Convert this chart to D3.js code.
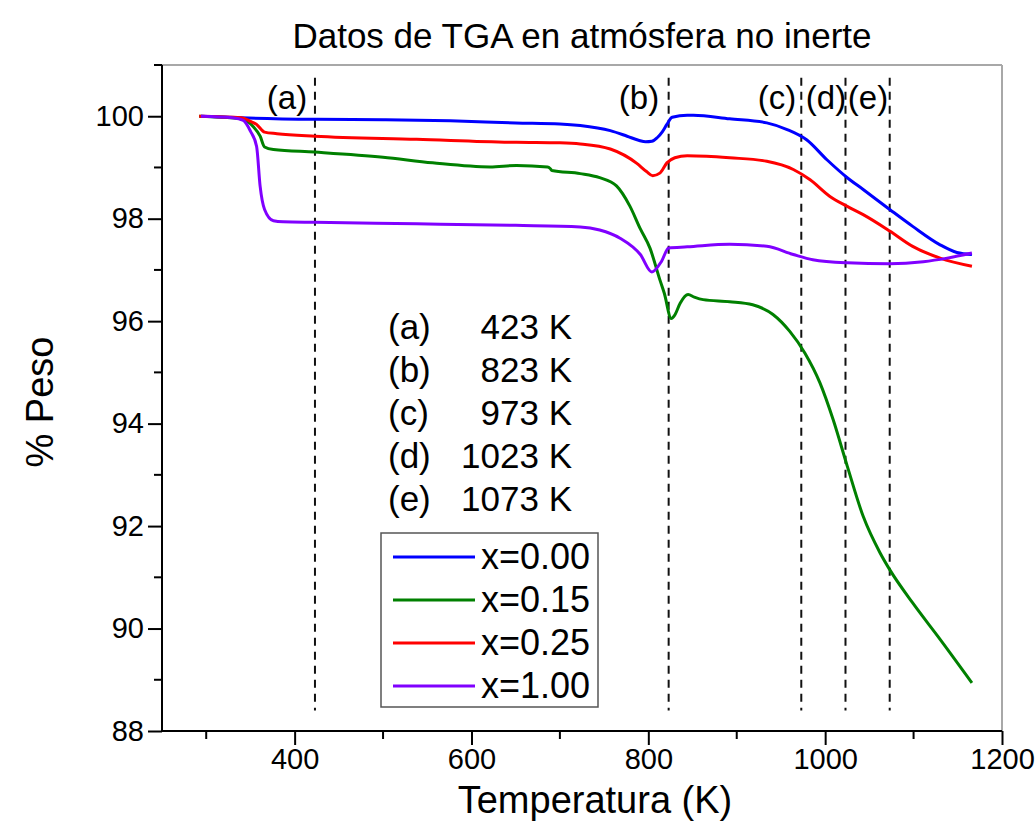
<!DOCTYPE html>
<html>
<head>
<meta charset="utf-8">
<script src="https://cdn.jsdelivr.net/npm/d3@7/dist/d3.min.js"></script>
<style>
  html, body { margin: 0; padding: 0; background: #fff; }
  svg { display: block; font-family: "Liberation Sans", Arial, sans-serif; }
</style>
</head>
<body>
<svg id="chart" width="1036" height="838"></svg>
<script>
// TGA curves: temperature (K) and weight (%) for each composition
const tempX000 = [294, 340, 424, 500, 576, 650, 700, 723, 757, 776, 789, 797, 804, 810, 816, 821, 827, 844, 851, 892, 934, 957, 979, 1002, 1025, 1043, 1073, 1099, 1130, 1149, 1166];
const pesoX000 = [100.0, 99.97, 99.94, 99.93, 99.91, 99.87, 99.85, 99.82, 99.72, 99.61, 99.53, 99.50, 99.51, 99.58, 99.70, 99.84, 99.98, 100.02, 100.02, 99.95, 99.87, 99.74, 99.54, 99.15, 98.80, 98.57, 98.18, 97.85, 97.49, 97.34, 97.30];

const tempX015 = [292, 340, 353, 361, 366, 376, 423, 500, 556, 621, 651, 686, 689, 691, 723, 745, 764, 779, 791, 802, 813, 818, 826, 830, 836, 845, 852, 862, 892, 918, 941, 960, 977, 994, 1009, 1025, 1043, 1062, 1073, 1099, 1130, 1166];
const pesoX015 = [100.0, 99.95, 99.80, 99.61, 99.40, 99.35, 99.30, 99.20, 99.09, 99.01, 99.04, 99.01, 98.98, 98.94, 98.88, 98.80, 98.64, 98.25, 97.80, 97.42, 96.81, 96.55, 96.05, 96.12, 96.35, 96.52, 96.47, 96.42, 96.38, 96.32, 96.13, 95.80, 95.38, 94.80, 94.08, 93.17, 92.19, 91.48, 91.15, 90.50, 89.79, 88.94];

const tempX025 = [292, 340, 350, 357, 366, 380, 423, 538, 651, 700, 723, 757, 787, 798, 805, 813, 821, 830, 844, 866, 892, 934, 964, 983, 1005, 1025, 1043, 1073, 1099, 1130, 1166];
const pesoX025 = [100.0, 99.97, 99.90, 99.84, 99.69, 99.66, 99.61, 99.55, 99.49, 99.48, 99.46, 99.36, 99.08, 98.92, 98.84, 98.89, 99.09, 99.19, 99.23, 99.22, 99.19, 99.12, 98.96, 98.76, 98.44, 98.24, 98.08, 97.76, 97.46, 97.23, 97.07];

const tempX100 = [294, 330, 342, 350, 357, 361, 366, 376, 387, 423, 538, 650, 723, 745, 768, 791, 804, 815, 823, 844, 892, 934, 964, 986, 1025, 1073, 1111, 1138, 1166];
const pesoX100 = [100.0, 99.97, 99.92, 99.71, 99.41, 98.63, 98.18, 97.96, 97.94, 97.93, 97.90, 97.87, 97.84, 97.78, 97.62, 97.30, 96.96, 97.17, 97.43, 97.45, 97.50, 97.46, 97.30, 97.20, 97.14, 97.12, 97.16, 97.23, 97.33];

const seriesNames = ["x=0.00", "x=0.15", "x=0.25", "x=1.00"];
const seriesColors = ["#0000ff", "#008000", "#ff0000", "#8000ff"];

// Reference temperatures marked with dashed lines
const markerLetters = ["(a)", "(b)", "(c)", "(d)", "(e)"];
const markerTemps = [423, 823, 973, 1023, 1073];

const xMajorTicks = [400, 600, 800, 1000, 1200];
const xMinorTicks = [300, 500, 700, 900, 1100];
const yMajorTicks = [88, 90, 92, 94, 96, 98, 100];
const yMinorTicks = [89, 91, 93, 95, 97, 99, 101];

const titleText = "Datos de TGA en atmósfera no inerte";
const xTitle = "Temperatura (K)";
const yTitle = "% Peso";

// ---- layout ----
const svg = d3.select("#chart");
const plotL = 162, plotR = 1002, plotT = 65, plotB = 731;

const x = d3.scaleLinear().domain([250, 1200]).range([plotL, plotR]);
const y = d3.scaleLinear().domain([88, 101]).range([plotB, plotT]);

const series = [
  { T: tempX000, W: pesoX000 },
  { T: tempX015, W: pesoX015 },
  { T: tempX025, W: pesoX025 },
  { T: tempX100, W: pesoX100 }
].map((s, i) => ({
  name: seriesNames[i],
  color: seriesColors[i],
  points: s.T.map((t, j) => [t, s.W[j]])
}));

// frame: top and right in grey
svg.append("line").attr("x1", plotL).attr("x2", plotR).attr("y1", plotT).attr("y2", plotT)
  .attr("stroke", "#a8a8a8").attr("stroke-width", 2);
svg.append("line").attr("x1", plotR).attr("x2", plotR).attr("y1", plotT).attr("y2", plotB)
  .attr("stroke", "#a8a8a8").attr("stroke-width", 2);

// dashed markers
const markers = svg.append("g");
markers.selectAll("line").data(markerTemps).join("line")
  .attr("x1", d => x(d)).attr("x2", d => x(d))
  .attr("y1", y(100.75)).attr("y2", y(88.4))
  .attr("stroke", "#111").attr("stroke-width", 2)
  .attr("stroke-dasharray", "8,6");

const letterX = [287, 639, 777, 826, 868];
markers.selectAll("text").data(markerLetters).join("text")
  .attr("x", (d, i) => letterX[i]).attr("y", 109)
  .attr("text-anchor", "middle")
  .attr("font-size", 33)
  .text(d => d);

// curves
const line = d3.line()
  .x(d => x(d[0])).y(d => y(d[1]))
  .curve(d3.curveMonotoneX);

svg.append("g").selectAll("path").data(series).join("path")
  .attr("d", d => line(d.points))
  .attr("fill", "none")
  .attr("stroke", d => d.color)
  .attr("stroke-width", 3)
  .attr("stroke-linejoin", "round");

// axes
const xAxis = svg.append("g").attr("transform", `translate(0,${plotB})`);
xAxis.call(d3.axisBottom(x).tickValues(xMajorTicks).tickSize(14).tickPadding(3).tickFormat(d3.format("d")));
xAxis.append("g").selectAll("line").data(xMinorTicks).join("line")
  .attr("x1", d => x(d)).attr("x2", d => x(d)).attr("y1", 0).attr("y2", 8)
  .attr("stroke", "#000").attr("stroke-width", 2);

const yAxis = svg.append("g").attr("transform", `translate(${plotL},0)`);
yAxis.call(d3.axisLeft(y).tickValues(yMajorTicks).tickSize(14).tickPadding(4).tickFormat(d3.format("d")));
yAxis.append("g").selectAll("line").data(yMinorTicks).join("line")
  .attr("x1", 0).attr("x2", -8).attr("y1", d => y(d)).attr("y2", d => y(d))
  .attr("stroke", "#000").attr("stroke-width", 2);

[xAxis, yAxis].forEach(a => {
  a.select(".domain").attr("stroke", "#000").attr("stroke-width", 2);
  a.selectAll(".tick line").attr("stroke", "#000").attr("stroke-width", 2);
  a.selectAll(".tick text").attr("fill", "#000").attr("font-size", 29)
    .attr("font-family", "\"Liberation Sans\", Arial, sans-serif");
});
yAxis.select(".domain").attr("d", `M0,${plotT}V${plotB}`);
xAxis.select(".domain").attr("d", `M${plotL},0H${plotR}`);

// annotation list of reference temperatures
const note = svg.append("g");
note.selectAll("text.lab").data(markerLetters).join("text").attr("class", "lab")
  .attr("x", 388).attr("y", (d, i) => 339 + i * 43)
  .attr("font-size", 35).text(d => d);
note.selectAll("text.val").data(markerTemps).join("text").attr("class", "val")
  .attr("x", 572).attr("y", (d, i) => 339 + i * 43)
  .attr("text-anchor", "end")
  .attr("font-size", 35).text(d => `${d} K`);

// legend
const lg = svg.append("g");
lg.append("rect").attr("x", 381).attr("y", 533).attr("width", 217).attr("height", 174)
  .attr("fill", "#fff").attr("stroke", "#555").attr("stroke-width", 1.5);
const rows = lg.selectAll("g.row").data(series).join("g").attr("class", "row")
  .attr("transform", (d, i) => `translate(0,${557 + i * 43})`);
rows.append("line").attr("x1", 393).attr("x2", 475).attr("y1", 0).attr("y2", 0)
  .attr("stroke", d => d.color).attr("stroke-width", 3);
rows.append("text").attr("x", 481).attr("y", 12).attr("font-size", 36).text(d => d.name);

// titles
svg.append("text").attr("x", 582).attr("y", 48).attr("text-anchor", "middle")
  .attr("font-size", 35).text(titleText);
svg.append("text").attr("x", 595).attr("y", 813).attr("text-anchor", "middle")
  .attr("font-size", 38).text(xTitle);
svg.append("text").attr("transform", "translate(53,402) rotate(-90)")
  .attr("text-anchor", "middle").attr("font-size", 38).text(yTitle);
</script>
</body>
</html>
